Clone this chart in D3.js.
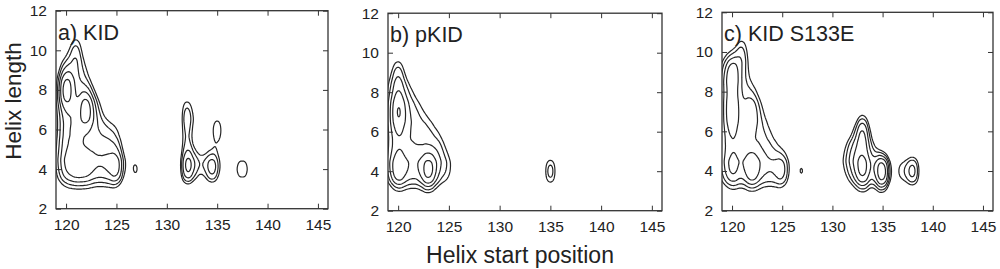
<!DOCTYPE html>
<html>
<head>
<meta charset="utf-8">
<script src="https://cdn.jsdelivr.net/npm/d3@7"></script>
<style>
body { margin: 0; background: #fff; }
svg { display: block; }
text { font-family: "Liberation Sans", Arial, sans-serif; fill: #222; }
</style>
</head>
<body>
<svg width="1000" height="269"></svg>
<script>
//	DATA

var titles = ["a) KID", "b) pKID", "c) KID S133E"],
	xTicks = [120, 125, 130, 135, 140, 145],
	yTicks = [2, 4, 6, 8, 10, 12],
	levels = [1, 1.3, 1.7, 2.2, 2.9, 3.7];   // contour levels (peak units)

// weights, helix start 119..126 (columns), length 11..3 (rows)
var gridStart = [119, 120, 121, 122, 123, 124, 125, 126],
	gridLength = [11, 10, 9, 8, 7, 6, 5, 4, 3];

var kidGrid = [
	[0,   0,   0.3, 0,   0,   0,   0,   0  ],
	[0,   0.4, 1.3, 0.2, 0,   0,   0,   0  ],
	[0.3, 1.2, 1.2, 0.7, 0,   0,   0,   0  ],
	[0.5, 3.2, 1.2, 1.1, 0.4, 0,   0,   0  ],
	[0.5, 1.3, 1.3, 3.2, 1.1, 0.3, 0,   0  ],
	[0.5, 1.3, 1.7, 1.3, 1.1, 1.0, 0.8, 0  ],
	[0.6, 1.4, 1.4, 1.3, 1.3, 1.3, 1.1, 0.3],
	[0.7, 1.8, 2.3, 2.2, 1.6, 1.7, 2.4, 0.5],
	[0.3, 0.4, 0.4, 0.4, 0.4, 0.4, 0.3, 0  ]
];
var pkidGrid = [
	[0,   0,   0,   0,   0,   0,   0,   0  ],
	[0,   0.3, 0,   0,   0,   0,   0,   0  ],
	[0.4, 1.3, 0.3, 0,   0,   0,   0,   0  ],
	[0.7, 1.5, 0.9, 0.4, 0,   0,   0,   0  ],
	[0.8, 2.5, 1.2, 0.9, 0.5, 0,   0,   0  ],
	[0.8, 1.5, 1.1, 1.0, 1.0, 0.7, 0,   0  ],
	[0.8, 1.3, 1.1, 1.1, 1.0, 1.1, 0.6, 0  ],
	[1.0, 2.6, 1.6, 1.6, 3.2, 1.3, 0.9, 0.2],
	[0.3, 0.4, 0.4, 0.4, 0.4, 0.3, 0.2, 0  ]
];
var s133eGrid = [
	[0,   0,   0.3, 0,   0,   0,   0,   0  ],
	[0.3, 0.5, 1.3, 0.2, 0,   0,   0,   0  ],
	[0.9, 2.4, 1.0, 0.4, 0,   0,   0,   0  ],
	[0.9, 1.7, 1.0, 0.8, 0.3, 0,   0,   0  ],
	[0.9, 2.3, 1.1, 1.8, 0.7, 0.3, 0,   0  ],
	[0.9, 1.6, 1.1, 1.1, 0.9, 0.6, 0.2, 0  ],
	[0.9, 1.3, 1.2, 1.2, 1.1, 0.9, 0.6, 0.2],
	[1.0, 2.0, 1.4, 2.6, 1.4, 1.3, 1.9, 0.4],
	[0.3, 0.4, 0.4, 0.4, 0.4, 0.4, 0.3, 0  ]
];

// other peaks: [helix start, helix length, weight]
var kidPeaks = [
	[127,4,1.2],
	[132,7,1.4],[132,6,1.1],[132,5,1.0],[132,4,2.4],[133,4,0.9],
	[134.5,4,1.4],[134,4,0.5],[135,4,0.5],[136,4,0.3],
	[133,4.6,0.6],[134,4.6,0.5],[135,4.6,0.4],
	[133.4,6.5,1.2],[135,6,1.55],
	[136.9,3.55,0.28],[137.5,3.55,0.28],[138.1,3.55,0.28],
	[136.9,4,0.28],[137.5,4,0.28],[138.1,4,0.28],
	[136.9,4.45,0.28],[137.5,4.45,0.28],[138.1,4.45,0.28]
];
var pkidPeaks = [
	[135,4,1.8]
];
var s133ePeaks = [
	[127,4,1.2],
	[131,5,0.6],[131,4,0.6],[132,6,0.5],[132,5,1.4],[132,4,1.3],
	[133,7,0.3],[133,6,2.1],[133,5,1.6],[133,4,3.0],[134,6,0.3],[134,5,0.9],[134,4,1.3],
	[132,3,0.3],[133,3,0.4],[134,3,0.3],[135,3,0.3],
	[135,4,4.0],[136.4,4,0.5],[137,4,1.0],[138,4,2.0],[138.5,4,0.3]
];

var grids = [kidGrid, pkidGrid, s133eGrid],
	peaks = [kidPeaks, pkidPeaks, s133ePeaks];

//	LAYOUT

var panels = [
	{left: 56,  top: 10.7, bottom: 208.7, width: 272},
	{left: 388, top: 13.2, bottom: 210.7, width: 274},
	{left: 722, top: 12.3, bottom: 210.7, width: 271}
];

var svg = d3.select("svg");

// density grid space: 1 start unit = KX px, 1 length unit = KY px
var BW = 10, KX = BW / 0.45, KY = BW / 0.55,
	X0 = 116, X1 = 148, Y0 = 0, Y1 = 14;

var density = d3.contourDensity()
	.x(function(d) { return (d[0] - X0) * KX; })
	.y(function(d) { return (Y1 - d[1]) * KY; })
	.weight(function(d) { return d[2]; })
	.size([(X1 - X0) * KX, (Y1 - Y0) * KY])
	.cellSize(2)
	.bandwidth(BW)
	.thresholds(levels.map(function(l) { return l / (2 * Math.PI * BW * BW); }));

function points(grid, extra) {
var	pts = [];
	grid.forEach(function(row, r) {
		row.forEach(function(w, c) { if (w > 0) pts.push([gridStart[c], gridLength[r], w]); });
	});
	return pts.concat(extra);
}

panels.forEach(function(p, i) {
var	x = d3.scaleLinear().domain([119, 146]).range([p.left, p.left + p.width]),
	y = d3.scaleLinear().domain([2, 12]).range([p.bottom, p.top]),
	h = p.bottom - p.top,
	g = svg.append("g");

	g.append("clipPath").attr("id", "clip" + i)
		.append("rect").attr("x", p.left).attr("y", p.top)
		.attr("width", p.width).attr("height", h);

	var path = d3.geoPath(d3.geoTransform({
		point: function(px, py) { this.stream.point(x(X0 + px / KX), y(Y1 - py / KY)); }
	}));

	g.append("g").attr("clip-path", "url(#clip" + i + ")")
		.selectAll("path")
		.data(density(points(grids[i], peaks[i])))
		.join("path")
		.attr("d", path)
		.attr("fill", "none")
		.attr("stroke", "#262626")
		.attr("stroke-width", 1.2)
		.attr("stroke-linejoin", "round");

	// axes, ticks pointing inward
	var fs = "15.5px";
	g.append("g").attr("transform", "translate(0," + p.bottom + ")")
		.call(d3.axisBottom(x).tickValues(xTicks).tickSize(-5).tickPadding(10))
		.call(function(a) { a.select(".domain").remove(); a.selectAll("text").style("font-size", fs); });
	g.append("g").attr("transform", "translate(0," + p.top + ")")
		.call(d3.axisTop(x).tickValues(xTicks).tickSize(-5).tickFormat(""))
		.call(function(a) { a.select(".domain").remove(); });
	g.append("g").attr("transform", "translate(" + p.left + ",0)")
		.call(d3.axisLeft(y).tickValues(yTicks).tickSize(-5).tickPadding(9))
		.call(function(a) { a.select(".domain").remove(); a.selectAll("text").style("font-size", fs); });
	g.append("g").attr("transform", "translate(" + (p.left + p.width) + ",0)")
		.call(d3.axisRight(y).tickValues(yTicks).tickSize(-5).tickFormat(""))
		.call(function(a) { a.select(".domain").remove(); });
	g.selectAll(".tick line").attr("stroke", "#333");

	g.append("rect")
		.attr("x", p.left).attr("y", p.top)
		.attr("width", p.width).attr("height", h)
		.attr("fill", "none").attr("stroke", "#333").attr("stroke-width", 1.3);

	g.append("text")
		.attr("x", p.left + 2).attr("y", p.top + 29)
		.style("font-size", "21.5px")
		.text(titles[i]);
});

svg.append("text")
	.attr("transform", "translate(21,101) rotate(-90)")
	.attr("text-anchor", "middle")
	.style("font-size", "22.5px")
	.text("Helix length");

svg.append("text")
	.attr("x", 520).attr("y", 263)
	.attr("text-anchor", "middle")
	.style("font-size", "23px")
	.text("Helix start position");
</script>
</body>
</html>
